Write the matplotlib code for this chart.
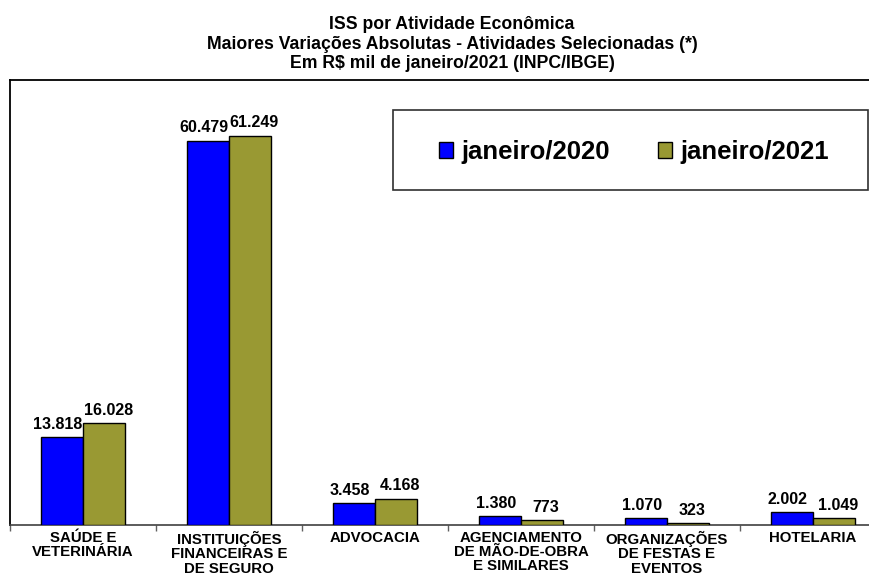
import matplotlib
matplotlib.use("Agg")
import matplotlib.pyplot as plt
from matplotlib.patches import Patch, Rectangle
import numpy as np

categories = ["SAÚDE E\nVETERINÁRIA", "INSTITUIÇÕES\nFINANCEIRAS E\nDE SEGURO", "ADVOCACIA",
              "AGENCIAMENTO\nDE MÃO-DE-OBRA\nE SIMILARES", "ORGANIZAÇÕES\nDE FESTAS E\nEVENTOS", "HOTELARIA"]
jan2020 = [13818, 60479, 3458, 1380, 1070, 2002]
jan2021 = [16028, 61249, 4168, 773, 323, 1049]
series_names = ["janeiro/2020", "janeiro/2021"]
title_lines = ["ISS por Atividade Econômica",
               "Maiores Variações Absolutas - Atividades Selecionadas (*)",
               "Em R$ mil de janeiro/2021 (INPC/IBGE)"]

plt.rcParams['font.family'] = ['Liberation Sans', 'DejaVu Sans']
plt.rcParams['font.weight'] = 'bold'

W, H = 870, 577
fig = plt.figure(figsize=(W / 100, H / 100), dpi=100)
fig.patch.set_facecolor('white')

def fx(px):
    return px / W

def fy(py):
    return 1 - py / H

ax = fig.add_axes([fx(10), fy(525), 876 / W, 445 / H])

blue = '#0000FF'
olive = '#999933'
x = np.arange(len(categories))
w = 0.2877
b1 = ax.bar(x - w / 2, jan2020, w, color=blue, edgecolor='black', linewidth=1.0, zorder=3)
b2 = ax.bar(x + w / 2, jan2021, w, color=olive, edgecolor='black', linewidth=1.0, zorder=3)

def fmt(v):
    return f"{v:,}".replace(",", ".")

for bars, vals, dx in ((b1, jan2020, -3), (b2, jan2021, 3)):
    for rect, v in zip(bars, vals):
        ax.annotate(fmt(v), (rect.get_x() + rect.get_width() / 2, v),
                    xytext=(dx, 6), textcoords='offset points',
                    ha='center', va='baseline', fontsize=11.5, fontweight='bold', color='black')

ax.set_xlim(-0.5, len(categories) - 0.5)
ax.set_ylim(0, 70000)
ax.set_yticks([])
ax.set_xticks(x)
ax.set_xticklabels(categories, fontsize=10.8, fontweight='bold', linespacing=1.04)
ax.tick_params(axis='x', which='major', length=0, pad=4)
ax.set_xticks(np.arange(len(categories) + 1) - 0.5, minor=True)
ax.tick_params(axis='x', which='minor', length=4, width=1, color='#606060', direction='out')

for s in ('top', 'left'):
    ax.spines[s].set_color('black')
    ax.spines[s].set_linewidth(1.3)
ax.spines['bottom'].set_color('#404040')
ax.spines['bottom'].set_linewidth(1.2)
ax.spines['right'].set_visible(False)

# Title
for ypx, line in zip((29, 49, 68), title_lines):
    fig.text(fx(452), fy(ypx), line, ha='center', va='baseline', fontsize=12.7, fontweight='bold')

# Legend box
fig.patches.append(Rectangle((fx(393), fy(190)), (868 - 393) / W, 80 / H,
                             transform=fig.transFigure, facecolor='white',
                             edgecolor='#303030', linewidth=1.2, zorder=5))
handles = [Patch(facecolor=blue, edgecolor='black', linewidth=1.0),
           Patch(facecolor=olive, edgecolor='black', linewidth=1.0)]
leg = fig.legend(handles, series_names, loc='center', bbox_to_anchor=(fx(634), fy(152)),
                 ncol=2, frameon=False, prop={'weight': 'bold', 'size': 18.5},
                 handlelength=0.55, handleheight=0.55, handletextpad=0.3, columnspacing=1.9)
leg.set_zorder(6)

fig.savefig("out.png", dpi=100)
